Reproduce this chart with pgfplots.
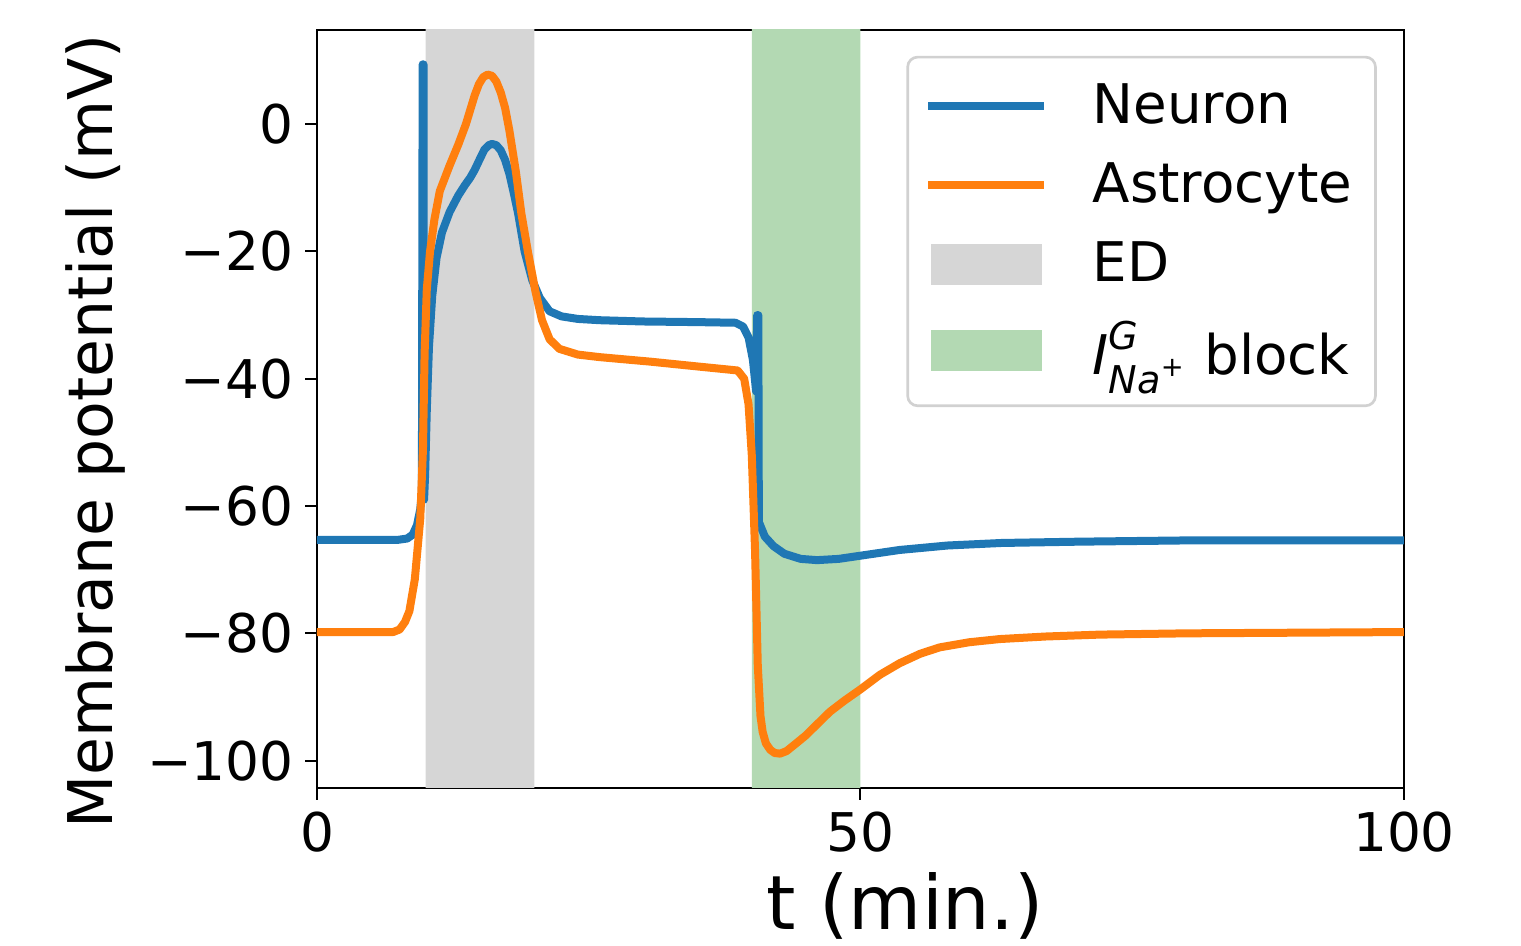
\documentclass[border=0pt]{standalone}
\usepackage{pgfplots}
\pgfplotsset{compat=1.18}
\usepackage{amsmath}
\usepackage{fontspec}
\setmainfont{DejaVu Sans}
\definecolor{cneuron}{HTML}{1F77B4}
\definecolor{castro}{HTML}{FF7F0E}
\definecolor{edgray}{HTML}{D6D6D6}
\definecolor{blockgreen}{HTML}{B3D9B3}
\begin{document}
\begin{tikzpicture}
\useasboundingbox (-95.1pt,-47.4pt) rectangle (361.2pt,236.4pt);
\begin{axis}[
    at={(0,0)}, anchor=south west,
    scale only axis,
    width=326.1pt, height=227.4pt,
    xmin=0, xmax=100,
    ymin=-104.3, ymax=14.8,
    xtick={0,50,100},
    ytick={-100,-80,-60,-40,-20,0},
    yticklabels={−100,−80,−60,−40,−20,0},
    tick pos=left,
    tick align=outside,
    major tick length=3.5pt,
    tick style={black, line width=0.6pt},
    axis line style={line width=0.6pt},
    /pgf/number format/assume math mode=true,
    ticklabel style={font=\fontsize{16}{19}\selectfont},
    xlabel={t (min.)},
    ylabel={Membrane potential (mV)},
    xlabel style={font=\fontsize{22.5}{27}\selectfont, at={(axis description cs:0.541,-0.155)}, anchor=center},
    ylabel style={font=\fontsize{18.5}{22}\selectfont, at={(axis description cs:-0.204,0.47)}, anchor=center},
    legend cell align=left,
    legend style={
        at={(axis description cs:0.975,0.966)}, anchor=north east,
        draw=black!18, line width=0.8pt, rounded corners=3pt,
        font=\fontsize{16.4}{20}\selectfont,
        row sep=6.3pt, inner xsep=5pt, inner ysep=6pt,
    },
    legend image code/.code={\draw[#1, line width=2.4pt, sharp corners] (0cm,0cm) -- (1.22cm,0cm); \path (1.62cm,0cm);},
]
% shaded intervals
\addplot[draw=none, fill=edgray, forget plot] coordinates {(10,-120) (10,30) (20,30) (20,-120) (10,-120)};
\addplot[draw=none, fill=blockgreen, forget plot] coordinates {(40,-120) (40,30) (50,30) (50,-120) (40,-120)};

% neuron
\addplot[color=cneuron, line width=2.4pt, line join=round] coordinates {
(0,-65.3) (7.5,-65.3) (8.3,-65.1) (8.8,-64.5) (9.2,-63) (9.5,-60.5) (9.65,-58)
(9.72,9.4) (9.8,9.4) (9.85,-59) (9.95,-55) (10.1,-45) (10.3,-35) (10.6,-27)
(11.0,-21) (11.5,-17) (12.2,-13.8) (13.0,-11.2) (13.6,-9.6) (14.1,-8.4) (14.5,-7.2)
(15.0,-5.4) (15.4,-4.0) (15.8,-3.3) (16.1,-3.1) (16.5,-3.3) (16.9,-4.1)
(17.3,-5.6) (17.7,-7.8) (18.1,-10.8) (18.5,-14.0) (19.1,-20)
(19.8,-24.5) (20.5,-27.3) (21.4,-29.4) (22.5,-30.2) (24,-30.6) (26,-30.8)
(30,-31) (35,-31.1) (38.5,-31.2) (39.2,-31.8) (39.7,-33.5) (40.1,-37) (40.4,-42)
(40.5,-30) (40.6,-30) (40.65,-62.5) (41.2,-64.8) (42,-66.3) (43,-67.5) (44.5,-68.3)
(46,-68.5) (48,-68.3) (50,-67.8) (53.6,-66.9) (58,-66.2) (63,-65.8) (70,-65.6)
(80,-65.4) (100,-65.4)
};
\addlegendentry{Neuron}

% astrocyte
\addplot[color=castro, line width=2.4pt, line join=round] coordinates {
(0,-79.8) (7.0,-79.8) (7.6,-79.4) (8.1,-78.2) (8.5,-76.5) (9.0,-71.5) (9.5,-62)
(9.75,-51) (9.9,-36) (10.1,-26) (10.4,-20) (10.8,-15) (11.3,-10.5) (12.2,-6.5)
(13.0,-3.2) (13.7,0) (14.5,4.5) (14.9,6.3) (15.3,7.4) (15.7,7.8) (16.1,7.6)
(16.5,6.7) (16.9,5) (17.3,2.6) (17.7,-1) (18.3,-7.5) (18.8,-14) (19.4,-20)
(20.1,-26.3) (20.7,-30.8)
(21.4,-33.8) (22.3,-35.3) (24,-36.2) (26,-36.6) (30.6,-37.3) (35.2,-38.1)
(38.7,-38.7) (39.3,-40) (39.7,-44) (40.0,-52) (40.3,-67) (40.55,-85) (40.8,-93)
(41.0,-95.5) (41.3,-97.3) (41.7,-98.3) (42.1,-98.8) (42.6,-98.9) (43.2,-98.5)
(44,-97.4) (45,-96) (46,-94.3) (47.2,-92.3) (48.5,-90.6)
(50,-88.8) (51.8,-86.5) (53.6,-84.7) (55.5,-83.2) (57.3,-82.2) (60,-81.4)
(62.8,-80.9) (67,-80.5) (72,-80.2) (80,-80) (100,-79.8)
};
\addlegendentry{Astrocyte}

\addlegendimage{legend image code/.code={\fill[edgray, sharp corners] (0.04cm,-0.2cm) rectangle (1.18cm,0.2cm); \path (1.62cm,0cm);}}
\addlegendentry{ED}
\addlegendimage{legend image code/.code={\fill[blockgreen, sharp corners] (0.04cm,-0.2cm) rectangle (1.18cm,0.2cm); \path (1.62cm,0cm);}}
\addlegendentry{$\textit{I}^{\textit{G}}_{\textit{Na}^{\text{+}}}$ block}
\end{axis}
\end{tikzpicture}
\end{document}
